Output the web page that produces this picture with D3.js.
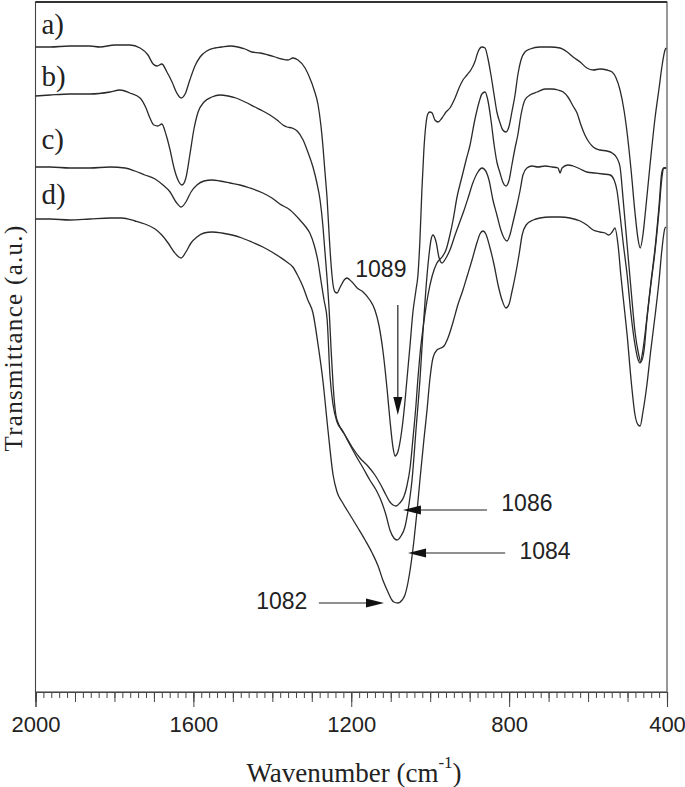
<!DOCTYPE html>
<html><head><meta charset="utf-8">
<script src="https://cdn.jsdelivr.net/npm/d3@7"></script>
<style>html,body{margin:0;padding:0;background:#fff;}svg{display:block;}</style>
</head><body>
<svg id="chart" width="685" height="787"></svg>
<script>
// Spectra: [wavenumber (cm-1), transmittance (a.u., offset)]
const seriesA = [[2000,645],[1963,645],[1913,646],[1862,646],[1837,645],[1799,647],[1761,647],[1735,644],[1715,637],[1702,628],[1692,626],[1680,628],[1667,620],[1654,610],[1642,599],[1631,594],[1621,598],[1609,612],[1596,626],[1583,635],[1566,641],[1545,644],[1528,645],[1507,646],[1487,645],[1469,643],[1452,640],[1431,639],[1411,637],[1393,635],[1376,633],[1360,632],[1348,634],[1335,632],[1317,624],[1305,614],[1294,602],[1284,587],[1277,567],[1272,547],[1267,522],[1261,492],[1256,457],[1251,427],[1246,407],[1241,400],[1236,399],[1229,404],[1218,412],[1211,414],[1198,410],[1185,404],[1170,400],[1153,392],[1140,382],[1130,367],[1120,342],[1109,302],[1102,272],[1094,244],[1089,236],[1082,240],[1074,256],[1066,282],[1059,312],[1051,347],[1044,379],[1036,402],[1031,417],[1026,452],[1021,502],[1016,542],[1011,567],[1006,578],[1001,580],[995,579],[988,572],[980,570],[970,574],[960,580],[950,584],[937,594],[927,604],[917,612],[907,617],[897,622],[887,630],[879,640],[869,645],[861,644],[854,634],[846,617],[838,597],[831,580],[823,569],[816,562],[808,560],[800,566],[793,580],[785,597],[778,617],[770,632],[760,640],[747,643],[722,645],[696,645],[671,644],[653,640],[638,635],[620,630],[603,624],[587,622],[570,623],[552,622],[539,620],[529,614],[519,602],[509,582],[501,559],[491,522],[481,479],[473,452],[468,444],[461,457],[456,475],[443,527],[430,575],[420,604],[413,625],[405,642],[402,644]];

const seriesB = [[2000,596],[1963,597],[1913,598],[1862,598],[1811,600],[1786,602],[1761,599],[1735,594],[1720,584],[1710,574],[1700,567],[1690,566],[1680,568],[1669,557],[1659,542],[1649,524],[1639,512],[1629,507],[1619,514],[1609,537],[1599,562],[1588,580],[1573,590],[1553,595],[1533,597],[1512,596],[1492,594],[1469,590],[1444,585],[1424,581],[1406,577],[1388,572],[1373,567],[1363,565],[1350,564],[1337,561],[1322,552],[1310,540],[1297,525],[1287,509],[1279,492],[1272,467],[1267,442],[1261,412],[1256,382],[1251,342],[1246,307],[1239,277],[1231,267],[1216,257],[1198,245],[1178,234],[1158,226],[1140,217],[1125,207],[1112,197],[1102,190],[1094,187],[1086,186],[1077,189],[1066,196],[1059,206],[1051,224],[1044,252],[1036,287],[1031,314],[1026,337],[1016,370],[1006,396],[995,416],[983,429],[970,435],[960,442],[950,457],[942,472],[932,495],[919,516],[909,532],[899,547],[887,572],[876,590],[869,598],[861,600],[854,592],[846,572],[838,547],[831,530],[823,519],[816,510],[808,506],[800,512],[793,527],[785,544],[778,557],[770,577],[760,592],[747,597],[729,600],[709,603],[691,603],[676,602],[663,600],[651,595],[638,586],[628,579],[618,567],[608,557],[598,550],[587,545],[570,542],[552,541],[539,539],[527,534],[519,525],[511,492],[501,447],[491,402],[481,360],[473,340],[466,330],[458,342],[451,372],[441,407],[430,442],[420,482],[413,514],[408,524],[402,524]];

const seriesC = [[2000,525],[1963,525],[1913,524],[1862,524],[1811,525],[1773,524],[1748,521],[1723,517],[1697,513],[1677,507],[1659,500],[1644,490],[1631,485],[1619,490],[1606,500],[1591,507],[1573,511],[1553,512],[1533,511],[1507,509],[1482,507],[1457,504],[1424,499],[1401,494],[1381,488],[1355,482],[1330,472],[1315,465],[1305,459],[1294,447],[1284,430],[1277,412],[1269,392],[1261,372],[1254,317],[1246,287],[1236,270],[1223,262],[1203,247],[1185,234],[1170,224],[1153,212],[1137,202],[1125,192],[1112,177],[1102,162],[1092,154],[1084,152],[1074,156],[1064,165],[1054,187],[1046,212],[1036,262],[1026,312],[1018,362],[1011,402],[1003,437],[998,452],[993,457],[985,450],[978,435],[970,429],[960,434],[950,442],[937,457],[925,470],[914,482],[904,494],[892,509],[879,520],[869,524],[861,522],[851,512],[841,492],[831,477],[821,462],[813,454],[805,451],[798,457],[790,470],[780,487],[772,502],[765,517],[755,524],[742,526],[727,525],[709,526],[691,525],[676,524],[671,519],[666,524],[651,527],[638,526],[620,523],[603,520],[582,519],[562,518],[544,517],[534,512],[527,502],[519,477],[511,449],[501,417],[491,377],[481,347],[473,332],[468,329],[461,342],[451,374],[441,409],[430,445],[420,487],[413,520],[408,524],[402,524]];

const seriesD = [[2000,473],[1963,473],[1913,472],[1862,473],[1811,474],[1781,474],[1748,471],[1723,468],[1697,463],[1680,457],[1664,449],[1649,440],[1631,434],[1619,440],[1606,449],[1591,455],[1573,459],[1553,460],[1528,459],[1502,457],[1477,454],[1452,450],[1424,445],[1401,440],[1381,435],[1363,430],[1348,425],[1335,416],[1322,405],[1310,392],[1297,379],[1284,347],[1272,312],[1259,262],[1246,217],[1236,200],[1223,190],[1203,177],[1183,164],[1165,152],[1147,139],[1132,126],[1120,112],[1107,100],[1097,92],[1092,90],[1082,89],[1071,92],[1064,97],[1056,110],[1049,127],[1041,152],[1033,182],[1026,212],[1016,252],[1008,282],[1001,312],[993,334],[983,342],[973,344],[965,346],[955,354],[942,370],[930,387],[917,402],[907,415],[894,432],[881,450],[874,458],[866,461],[859,458],[849,445],[838,427],[828,407],[818,392],[808,384],[800,388],[793,400],[785,415],[775,437],[767,457],[757,467],[739,472],[722,474],[696,475],[671,475],[646,474],[620,471],[603,467],[587,462],[570,460],[557,459],[547,457],[539,460],[532,464],[524,447],[517,417],[509,387],[501,357],[491,312],[481,277],[473,267],[468,266],[461,280],[451,307],[441,342],[430,377],[420,412],[413,442],[405,464],[402,465]];

const seriesList = [seriesA, seriesB, seriesC, seriesD];
const seriesLabels = ["a)", "b)", "c)", "d)"];
const labelLevels = [658, 606, 543, 488];   // a.u. level of label baselines
const xTicks = [2000, 1600, 1200, 800, 400];
const peakNames = ["1089", "1086", "1084", "1082"];
// annotation arrows: tail [wn, T], tip [wn, T], label [wn, T]
const peakTails = [[1082, 387], [856, 182], [810, 139], [1282, 89]];
const peakTips  = [[1082, 277], [1069, 182], [1056, 139], [1117, 89]];
const peakText  = [[1125, 415], [755, 181], [709, 133], [1376, 83]];

const svg = d3.select("#chart");
const L = 35.5, R = 667, T = 2, B = 692;
const x = d3.scaleLinear().domain([2000, 400]).range([L, R]);
const y = d3.scaleLinear().domain([0, 690]).range([B, T]);

// frame
svg.append("rect").attr("x", L).attr("y", T).attr("width", R - L).attr("height", B - T)
  .attr("fill", "none").attr("stroke", "#444").attr("stroke-width", 1.1);
svg.append("line").attr("x1", L).attr("x2", R).attr("y1", T).attr("y2", T)
  .attr("stroke", "#333").attr("stroke-width", 2);

// x axis: minor, medium, major ticks
const minor = d3.range(2000, 399, -20);
const medium = d3.range(2000, 399, -100);
const gMinor = svg.append("g").attr("transform", `translate(0,${B})`)
  .call(d3.axisBottom(x).tickValues(minor).tickSize(6).tickFormat(""));
const gMed = svg.append("g").attr("transform", `translate(0,${B})`)
  .call(d3.axisBottom(x).tickValues(medium).tickSize(10).tickFormat(""));
const gMaj = svg.append("g").attr("transform", `translate(0,${B})`)
  .call(d3.axisBottom(x).tickValues(xTicks).tickSize(15).tickPadding(9).tickFormat(d3.format("d")));
[gMinor, gMed, gMaj].forEach(g => {
  g.select(".domain").attr("stroke", "#444").attr("stroke-width", 1.1);
  g.selectAll(".tick line").attr("stroke", "#444").attr("stroke-width", 1);
});
gMaj.selectAll(".tick text").attr("font-family", "'Liberation Sans', Arial, sans-serif")
  .attr("font-size", 22).attr("fill", "#222");

// spectra
const line = d3.line().x(d => x(d[0])).y(d => y(d[1])).curve(d3.curveMonotoneX);
seriesList.forEach(s => {
  svg.append("path").datum(s).attr("d", line).attr("fill", "none")
    .attr("stroke", "#2a2a2a").attr("stroke-width", 1.3).attr("stroke-linejoin", "round");
});

// series labels
seriesLabels.forEach((t, i) => {
  svg.append("text").attr("x", x(1985)).attr("y", y(labelLevels[i])).text(t)
    .attr("font-family", "'Liberation Serif', 'Times New Roman', serif").attr("font-size", 29).attr("fill", "#222");
});

// peak annotations
peakNames.forEach((name, i) => {
  const x1 = x(peakTails[i][0]), y1 = y(peakTails[i][1]);
  const x2 = x(peakTips[i][0]), y2 = y(peakTips[i][1]);
  const dx = x2 - x1, dy = y2 - y1, len = Math.hypot(dx, dy);
  const ux = dx / len, uy = dy / len, hl = 18, hw = 4.5;
  const bx = x2 - ux * hl, by = y2 - uy * hl;
  svg.append("line").attr("x1", x1).attr("y1", y1).attr("x2", bx).attr("y2", by)
    .attr("stroke", "#222").attr("stroke-width", 1.2);
  svg.append("path").attr("d", `M${x2},${y2}L${bx - uy * hw},${by + ux * hw}L${bx + uy * hw},${by - ux * hw}Z`)
    .attr("fill", "#111");
  svg.append("text").attr("x", x(peakText[i][0])).attr("y", y(peakText[i][1])).attr("text-anchor", "middle")
    .attr("font-family", "'Liberation Sans', Arial, sans-serif").attr("font-size", 23).attr("fill", "#222").text(name);
});

// axis titles
const xt = svg.append("text").attr("x", 354).attr("y", 782).attr("text-anchor", "middle")
  .attr("font-family", "'Liberation Serif', 'Times New Roman', serif").attr("font-size", 27).attr("fill", "#222");
xt.append("tspan").text("Wavenumber (cm");
xt.append("tspan").attr("font-size", 17).attr("dy", -14).text("-1");
xt.append("tspan").attr("dy", 14).text(")");

svg.append("text").attr("transform", "translate(22,338) rotate(-90)").attr("text-anchor", "middle")
  .attr("font-family", "'Liberation Serif', 'Times New Roman', serif").attr("font-size", 25)
  .attr("letter-spacing", 1.3).attr("fill", "#222").text("Transmittance (a.u.)");
</script>
</body></html>
